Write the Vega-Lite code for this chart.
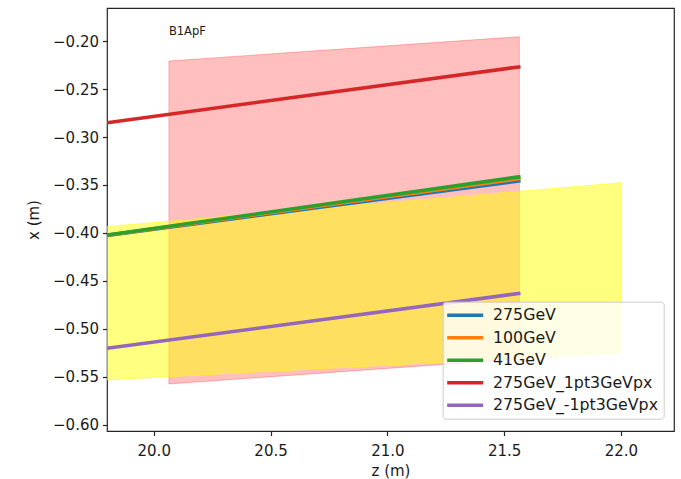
{
  "$schema": "https://vega.github.io/schema/vega-lite/v6.json",
  "width": 567,
  "height": 423,
  "autosize": {"type": "none"},
  "padding": {"left": 107, "top": 8, "right": 7, "bottom": 48},
  "background": "white",
  "config": {
    "font": "DejaVu Sans",
    "view": {"stroke": "#262626", "strokeWidth": 1.2},
    "axis": {
      "grid": false,
      "domain": false,
      "tickColor": "#262626",
      "tickWidth": 1.2,
      "tickSize": 4.5,
      "labelFont": "DejaVu Sans",
      "labelFontSize": 15,
      "labelColor": "#1a1a1a",
      "labelPadding": 4,
      "titleFont": "DejaVu Sans",
      "titleFontSize": 15,
      "titleFontWeight": "normal",
      "titleColor": "#1a1a1a"
    }
  },
  "datasets": {
    "bands": [
      {"band": "red", "z": 20.065, "top": -0.2208, "bottom": -0.5573},
      {"band": "red", "z": 21.565, "top": -0.1955, "bottom": -0.5313},
      {"band": "yellow", "z": 19.8, "top": -0.3932, "bottom": -0.5531},
      {"band": "yellow", "z": 22.0, "top": -0.3476, "bottom": -0.5249}
    ],
    "lines": [
      {"series": "275GeV", "z": 19.8, "x": -0.4025},
      {"series": "275GeV", "z": 21.57, "x": -0.3455},
      {"series": "100GeV", "z": 19.8, "x": -0.4023},
      {"series": "100GeV", "z": 21.57, "x": -0.3432},
      {"series": "41GeV", "z": 19.8, "x": -0.4021},
      {"series": "41GeV", "z": 21.57, "x": -0.3413},
      {"series": "275GeV_1pt3GeVpx", "z": 19.8, "x": -0.2851},
      {"series": "275GeV_1pt3GeVpx", "z": 21.57, "x": -0.2268},
      {"series": "275GeV_-1pt3GeVpx", "z": 19.8, "x": -0.5201},
      {"series": "275GeV_-1pt3GeVpx", "z": 21.57, "x": -0.4628}
    ],
    "labels": [
      {"z": 20.065, "x": -0.1906, "label": "B1ApF"}
    ]
  },
  "layer": [
    {
      "data": {"name": "bands"},
      "transform": [{"filter": "datum.band === 'red'"}],
      "mark": {"type": "area", "clip": true, "color": "#ff0000", "fillOpacity": 0.25, "stroke": "#ff0000", "strokeOpacity": 0.25, "strokeWidth": 1},
      "encoding": {
        "x": {"field": "z", "type": "quantitative", "scale": {"domain": [19.8, 22.227], "nice": false, "zero": false},
              "axis": {"values": [20.0, 20.5, 21.0, 21.5, 22.0], "format": ".1f", "title": "z (m)", "titleBaseline": "middle", "titleY": 39.5, "labelPadding": 7.5}},
        "y": {"field": "top", "type": "quantitative", "scale": {"domain": [-0.6063, -0.1656], "nice": false, "zero": false},
              "axis": {"values": [-0.6, -0.55, -0.5, -0.45, -0.4, -0.35, -0.3, -0.25, -0.2], "format": ".2f", "title": "x (m)", "titleX": -74, "titleY": 211.5, "titleBaseline": "middle", "titleAlign": "center"}},
        "y2": {"field": "bottom"}
      }
    },
    {
      "data": {"name": "bands"},
      "transform": [{"filter": "datum.band === 'yellow'"}],
      "mark": {"type": "area", "clip": true, "color": "#ffff00", "fillOpacity": 0.5, "stroke": "#ffff00", "strokeOpacity": 0.5, "strokeWidth": 1},
      "encoding": {
        "x": {"field": "z", "type": "quantitative"},
        "y": {"field": "top", "type": "quantitative"},
        "y2": {"field": "bottom"}
      }
    },
    {
      "data": {"name": "lines"},
      "mark": {"type": "line", "clip": true, "strokeWidth": 3.6},
      "encoding": {
        "x": {"field": "z", "type": "quantitative"},
        "y": {"field": "x", "type": "quantitative"},
        "color": {
          "field": "series", "type": "nominal",
          "scale": {"domain": ["275GeV", "100GeV", "41GeV", "275GeV_1pt3GeVpx", "275GeV_-1pt3GeVpx"],
                    "range": ["#1f77b4", "#ff7f0e", "#2ca02c", "#d62728", "#9467bd"]},
          "legend": {
            "orient": "none", "legendX": 335.7, "legendY": 293.7, "title": null,
            "symbolType": "M-2.667,0L2.667,0", "symbolSize": 182.25, "symbolStrokeWidth": 3.5,
            "symbolOffset": 9,
            "labelFont": "DejaVu Sans", "labelFontSize": 15.8, "labelColor": "#1a1a1a",
            "labelOffset": 19.3, "labelLimit": 400, "rowPadding": 5.5, "padding": 5,
            "fillColor": "rgba(255,255,255,0.8)", "strokeColor": "#cccccc", "cornerRadius": 3
          }
        },
        "order": {"field": "z"}
      }
    },
    {
      "data": {"name": "labels"},
      "mark": {"type": "text", "align": "left", "baseline": "middle", "fontSize": 11.5, "font": "DejaVu Sans", "color": "#1a1a1a"},
      "encoding": {
        "x": {"field": "z", "type": "quantitative"},
        "y": {"field": "x", "type": "quantitative"},
        "text": {"field": "label"}
      }
    }
  ]
}
